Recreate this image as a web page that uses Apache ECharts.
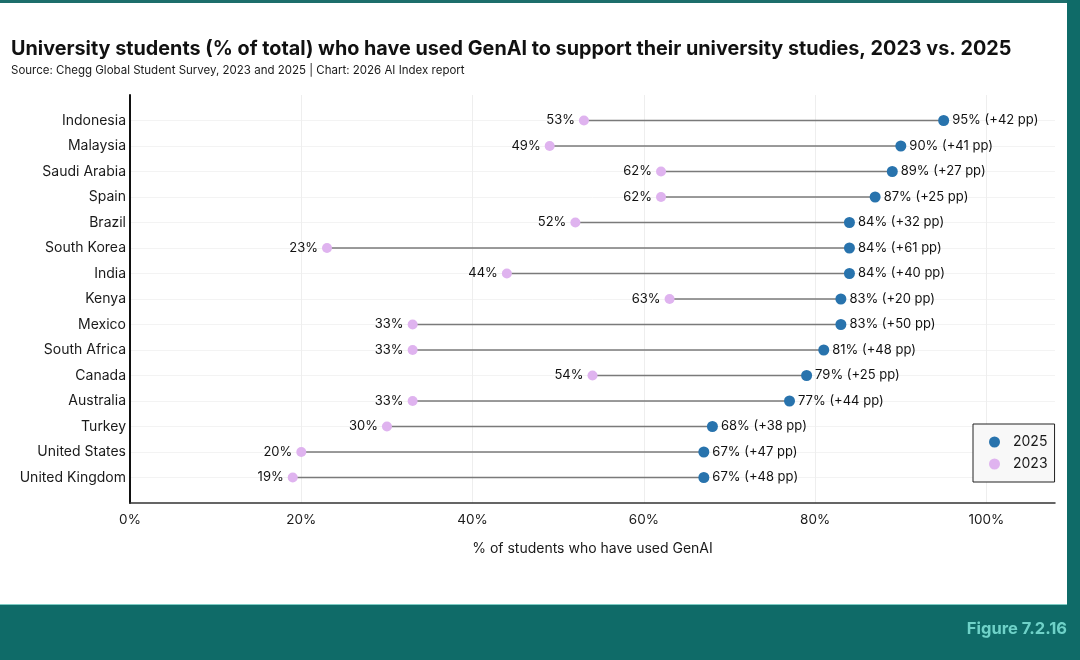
<!DOCTYPE html>
<html>
<head>
    <meta charset="utf-8" />
    <title>GenAI use by university students</title>
    <script src="https://cdn.jsdelivr.net/npm/echarts@6/dist/echarts.min.js"></script>
    <style>
        html, body { margin: 0; padding: 0; background: #fff; }
    </style>
</head>
<body>
<div id="main" style="width: 1080px; height: 660px"></div>
<script type="text/javascript">
    // countries, listed top to bottom as in the figure
    var countries = ['Indonesia', 'Malaysia', 'Saudi Arabia', 'Spain', 'Brazil', 'South Korea', 'India',
        'Kenya', 'Mexico', 'South Africa', 'Canada', 'Australia', 'Turkey', 'United States', 'United Kingdom'];
    var share2025 = [95, 90, 89, 87, 84, 84, 84, 83, 83, 81, 79, 77, 68, 67, 67];
    var share2023 = [53, 49, 62, 62, 52, 23, 44, 63, 33, 33, 54, 33, 30, 20, 19];
    var xTicks = [0, 20, 40, 60, 80, 100];

    var font = 'Inter, "Noto Sans", sans-serif';

    // category axis runs bottom -> top, padded with a blank slot at each end
    var cats = [''].concat(countries.slice().reverse()).concat(['']);
    var rev2025 = share2025.slice().reverse();
    var rev2023 = share2023.slice().reverse();

    var pts2025 = [], pts2023 = [], gaps = [];
    for (var i = 0; i < countries.length; i++) {
        pts2025.push([rev2025[i], i + 1]);
        pts2023.push([rev2023[i], i + 1]);
        gaps.push([rev2023[i], rev2025[i], i + 1]);
    }

    var myChart = echarts.init(document.getElementById('main'));
    myChart.setOption({
        animation: false,
        title: {
            text: 'University students (% of total) who have used GenAI to support their university studies, 2023 vs. 2025',
            subtext: 'Source: Chegg Global Student Survey, 2023 and 2025 | Chart: 2026 AI Index report',
            left: 6,
            top: 34,
            itemGap: 6,
            textStyle: { fontFamily: font, fontSize: 19.8, fontWeight: 'bold', color: '#111' },
            subtextStyle: { fontFamily: font, fontSize: 11.5, color: '#1a1a1a' }
        },
        legend: {
            orient: 'vertical',
            left: 973,
            top: 424,
            padding: [11, 7, 11, 16],
            itemGap: 8,
            itemWidth: 11,
            itemHeight: 11,
            borderColor: '#222',
            borderWidth: 1,
            backgroundColor: '#f8f8f8',
            borderRadius: 0,
            data: [
                { name: '2025', icon: 'circle' },
                { name: '2023', icon: 'circle' }
            ],
            textStyle: { fontFamily: font, fontSize: 14, color: '#1a1a1a', padding: [0, 0, 0, 8] }
        },
        grid: { left: 130, right: 25, top: 95, bottom: 157 },
        xAxis: {
            type: 'value',
            min: 0,
            max: 108,
            interval: 20,
            name: '% of students who have used GenAI',
            nameLocation: 'middle',
            nameGap: 39,
            nameTextStyle: { fontFamily: font, fontSize: 14, color: '#1a1a1a' },
            axisLine: { show: true, lineStyle: { color: '#333', width: 1.5 } },
            axisTick: { show: false },
            axisLabel: {
                fontFamily: font, fontSize: 13.5, color: '#1a1a1a', margin: 10,
                showMaxLabel: false,
                formatter: function (v) { return xTicks.indexOf(v) >= 0 ? v + '%' : ''; }
            },
            splitLine: { show: false }
        },
        yAxis: {
            type: 'category',
            data: cats,
            boundaryGap: false,
            axisLine: { show: true, lineStyle: { color: '#111', width: 2 } },
            axisTick: { show: false },
            axisLabel: { fontFamily: font, fontSize: 14, color: '#1a1a1a', margin: 4 },
            splitLine: {
                show: true,
                interval: function (idx, val) { return val !== ''; },
                lineStyle: { color: '#f3f3f3', width: 1 }
            }
        },
        series: [
            {
                name: 'gap',
                type: 'custom',
                silent: true,
                encode: { x: [0, 1], y: 2 },
                renderItem: function (params, api) {
                    var a = api.coord([api.value(0), api.value(2)]);
                    var b = api.coord([api.value(1), api.value(2)]);
                    return {
                        type: 'line',
                        shape: { x1: a[0], y1: a[1], x2: b[0], y2: b[1] },
                        style: { stroke: '#7a7a7a', lineWidth: 1.5 }
                    };
                },
                data: gaps,
                z: 1
            },
            {
                name: '2023',
                type: 'scatter',
                symbolSize: 10,
                itemStyle: { color: '#dfb3ef', opacity: 1 },
                label: {
                    show: true,
                    position: 'left',
                    distance: 4,
                    fontFamily: font,
                    fontSize: 13,
                    color: '#111',
                    formatter: function (p) { return p.value[0] + '%'; }
                },
                data: pts2023,
                // vertical grid lines only at the labelled ticks
                markLine: {
                    silent: true,
                    symbol: 'none',
                    label: { show: false },
                    lineStyle: { color: '#eeeeee', width: 1, type: 'solid' },
                    data: xTicks.slice(1).map(function (v) { return { xAxis: v }; }),
                    z: 0
                },
                z: 3
            },
            {
                name: '2025',
                type: 'scatter',
                symbolSize: 11,
                itemStyle: { color: '#2873ad', opacity: 1 },
                label: {
                    show: true,
                    position: 'right',
                    distance: 3,
                    fontFamily: font,
                    fontSize: 13,
                    color: '#111',
                    formatter: function (p) {
                        var i = p.dataIndex;
                        return p.value[0] + '% (+' + (rev2025[i] - rev2023[i]) + ' pp)';
                    }
                },
                data: pts2025,
                z: 3
            }
        ],
        graphic: [
            { type: 'rect', left: 0, top: 0, shape: { width: 1080, height: 3 }, style: { fill: '#1d6e6b' }, z: 100 },
            { type: 'rect', left: 1067, top: 0, shape: { width: 13, height: 660 }, style: { fill: '#0f6b68' }, z: 100 },
            { type: 'rect', left: 0, top: 604, shape: { width: 1080, height: 56 }, style: { fill: '#0f6b68' }, z: 100 },
            { type: 'rect', left: 0, top: 604, shape: { width: 1067, height: 1 }, style: { fill: '#7ccbc3' }, z: 101 },
            {
                type: 'text', right: 13, top: 621, z: 102,
                style: { text: 'Figure 7.2.16', fill: '#6fd2c8', font: 'bold 16.5px ' + font }
            }
        ]
    });
</script>
</body>
</html>
